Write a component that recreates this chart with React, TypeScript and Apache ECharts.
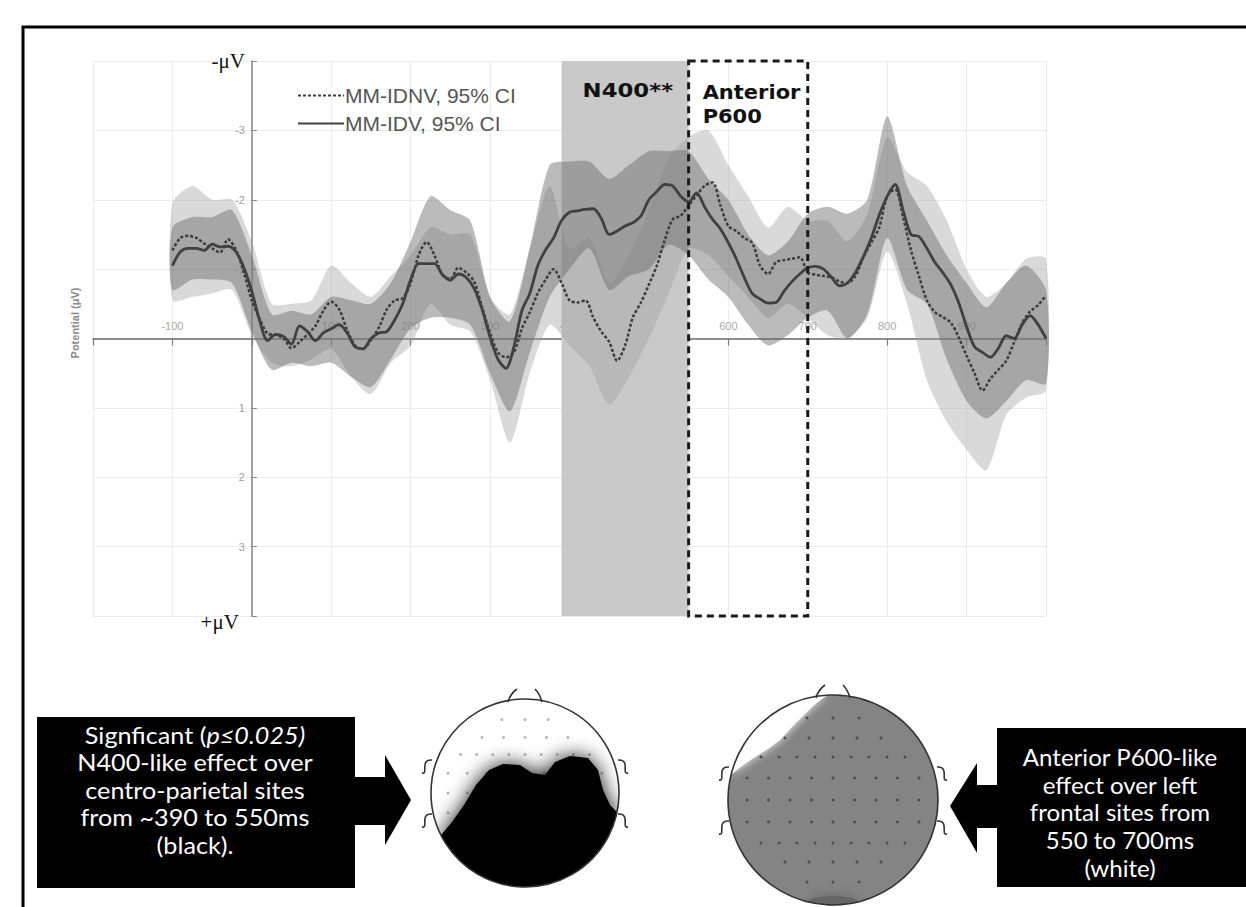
import React, { useEffect, useRef } from "react";
import * as echarts from "echarts";

// ---------- data (µV, negative plotted upward) ----------
const times = [
  -100, -90, -80, -70, -60, -50, -40, -30, -20, -10,
  0, 10, 20, 30, 40, 50, 60, 70, 80, 90,
  100, 110, 120, 130, 140, 150, 160, 170, 180, 190,
  200, 210, 220, 230, 240, 250, 260, 270, 280, 290,
  300, 310, 320, 330, 340, 350, 360, 370, 380, 390,
  400, 410, 420, 430, 440, 450, 460, 470, 480, 490,
  500, 510, 520, 530, 540, 550, 560, 570, 580, 590,
  600, 610, 620, 630, 640, 650, 660, 670, 680, 690,
  700, 710, 720, 730, 740, 750, 760, 770, 780, 790,
  800, 810, 820, 830, 840, 850, 860, 870, 880, 890,
  900, 910, 920, 930, 940, 950, 960, 970, 980, 990,
  1000,
];

const mmIDV = [
  -1.05, -1.25, -1.3, -1.3, -1.27, -1.36, -1.32, -1.33, -1.25, -1.02,
  -0.68, -0.25, 0.03, -0.06, -0.03, 0.08, -0.18, -0.1, 0.03, -0.08,
  -0.14, -0.2, -0.08, 0.12, 0.15, 0.0, -0.08, -0.1, -0.27, -0.5,
  -0.85, -1.08, -1.08, -1.08, -0.92, -0.84, -0.93, -0.88, -0.72, -0.42,
  -0.02, 0.3, 0.43, 0.12, -0.4, -0.65, -1.05, -1.28, -1.45, -1.7,
  -1.82, -1.84, -1.86, -1.87, -1.73, -1.5, -1.55, -1.62, -1.67, -1.77,
  -2.0, -2.12, -2.22, -2.2, -2.05, -1.97, -2.1, -1.9, -1.72, -1.58,
  -1.38, -1.15, -0.88, -0.65, -0.57, -0.51, -0.52, -0.68, -0.82, -0.93,
  -1.02, -1.04, -1.0, -0.88, -0.76, -0.8, -0.95, -1.18, -1.45, -1.78,
  -2.05, -2.22, -1.85, -1.5, -1.47, -1.3, -1.1, -0.95, -0.78, -0.52,
  -0.17, 0.12, 0.2, 0.27, 0.14, -0.04, 0.0, -0.2, -0.33, -0.2,
  0.0,
];

const mmIDNV = [
  -1.27, -1.45, -1.48, -1.45, -1.37, -1.3, -1.24, -1.43, -1.28, -0.95,
  -0.55, -0.28, -0.07, -0.05, 0.0, 0.14, 0.05, -0.06, -0.18, -0.4,
  -0.53, -0.42, -0.12, 0.1, 0.15, 0.02, -0.16, -0.42, -0.55, -0.58,
  -0.8, -1.2, -1.39, -1.2, -0.92, -0.86, -1.02, -0.95, -0.82, -0.45,
  -0.08, 0.2, 0.27, 0.2, -0.14, -0.38, -0.65, -0.85, -1.0, -0.8,
  -0.55, -0.52, -0.55, -0.3, -0.1, 0.05, 0.32, 0.1, -0.31, -0.52,
  -0.78, -1.05, -1.42, -1.72, -1.77, -1.92, -2.06, -2.2, -2.25, -1.92,
  -1.62, -1.55, -1.45, -1.38, -1.05, -0.93, -1.1, -1.13, -1.15, -1.17,
  -0.95, -0.92, -0.9, -0.88, -0.82, -0.8, -0.9, -1.17, -1.38, -1.6,
  -2.05, -2.15, -1.75, -1.27, -0.9, -0.55, -0.38, -0.31, -0.23, -0.02,
  0.25, 0.5, 0.75, 0.58, 0.45, 0.32, 0.05, -0.22, -0.39, -0.48,
  -0.62,
];

// 95% CI bounds, sampled every 25 ms
const ciTimes = [
  -100, -75, -50, -25, 0, 25, 50, 75, 100, 125, 150, 175, 200, 225, 250, 275,
  300, 325, 350, 375, 400, 425, 450, 475, 500, 525, 550, 575, 600, 625, 650, 675,
  700, 725, 750, 775, 800, 825, 850, 875, 900, 925, 950, 975, 1000,
];
const idnvUpper = [
  -1.95, -2.2, -2.0, -2.0, -1.4, -0.5, -0.5, -0.55, -1.05, -0.8, -0.6, -0.9,
  -1.2, -1.6, -1.5, -1.5, -0.6, -0.35, -1.3, -2.2, -1.3, -1.45, -0.8, -1.2,
  -1.85, -2.6, -2.9, -3.0, -2.5, -2.05, -1.6, -1.9, -1.7, -1.7, -1.4, -1.8,
  -2.9, -2.4, -2.2, -1.7, -1.0, -0.6, -0.8, -1.15, -1.15,
];
const idnvLower = [
  -0.55, -0.6, -0.65, -0.7, -0.05, 0.35, 0.4, 0.3, 0.15, 0.55, 0.8, 0.35,
  0.1, -0.5, -0.2, -0.1, 0.6, 1.5, 0.5, -0.2, 0.1, 0.4, 0.95, 0.55,
  0.0, -0.65, -1.3, -1.2, -0.9, -0.6, -0.3, -0.5, -0.3, -0.05, 0.0, -0.3,
  -1.25, -0.5, 0.6, 1.2, 1.6, 1.9, 1.1, 0.85, 0.75,
];
const idvUpper = [
  -1.6, -1.75, -1.75, -1.85, -1.2, -0.35, -0.4, -0.35, -0.6, -0.55, -0.5, -0.8,
  -1.4, -2.05, -1.85, -1.7, -0.6, -0.25, -1.3, -2.5, -2.55, -2.55, -2.3, -2.5,
  -2.7, -2.7, -2.7, -2.3, -2.0, -1.5, -1.2, -1.4, -1.8, -1.9, -1.8, -2.0,
  -3.2, -2.2, -1.7, -1.2, -0.8, -0.45, -0.8, -1.05, -0.7,
];
const idvLower = [
  -0.7, -0.85, -0.85, -0.8, -0.1, 0.45, 0.35, 0.4, 0.35, 0.55, 0.7, 0.3,
  -0.15, -0.3, -0.3, -0.2, 0.5, 1.05, 0.2, -0.6, -1.0, -1.3, -0.7, -0.9,
  -1.0, -1.35, -1.2, -0.85, -0.6, -0.2, 0.1, -0.05, -0.3, -0.4, 0.0, -0.35,
  -1.45, -0.7, -0.5, 0.3, 0.9, 1.15, 0.9, 0.6, 0.65,
];

const n400Window = [390, 550];
const p600Window = [550, 700];
const xTickHidden = [-200, 0, 1000];

const leftBoxLines = [
  "Signficant ({i|p≤0.025)}",
  "N400-like effect over",
  "centro-parietal sites",
  "from ~390 to 550ms",
  "(black).",
];
const rightBoxLines = [
  "Anterior P600-like",
  "effect over left",
  "frontal sites from",
  "550 to 700ms",
  "(white)",
];

// ---------- layout ----------
const W = 1246;
const H = 907;
const GRID = { left: 93, right: 200, top: 61, bottom: 291 };
const X_MIN = -200, X_MAX = 1000, Y_MIN = -4, Y_MAX = 4;

// ---------- helpers for the scalp maps ----------
const arcPts = (cx: number, cy: number, r: number, a0: number, a1: number, n = 40) => {
  const pts: number[][] = [];
  for (let k = 0; k <= n; k++) {
    const a = ((a0 + ((a1 - a0) * k) / n) * Math.PI) / 180;
    pts.push([cx + r * Math.cos(a), cy + r * Math.sin(a)]);
  }
  return pts;
};

const dotRows = [
  [-82, 3, 26], [-62, 5, 24], [-43, 9, 18], [-22, 9, 21.5], [0, 9, 21.5],
  [22, 9, 21.5], [43, 9, 18], [62, 5, 24], [82, 3, 26],
];

function headDots(cx: number, cy: number, r: number, color: string, z: number) {
  const s = r / 105;
  const out: any[] = [];
  dotRows.forEach(([dy, cnt, sp]) => {
    for (let k = 0; k < cnt; k++) {
      const dx = (k - (cnt - 1) / 2) * sp;
      out.push({
        type: "circle", silent: true, z,
        shape: { cx: cx + dx * s, cy: cy + dy * s, r: 1.5 },
        style: { fill: color },
      });
    }
  });
  return out;
}

function headDecor(cx: number, cy: number, r: number, z: number) {
  const top = cy - r;
  const els: any[] = [];
  const st = { stroke: "#333", lineWidth: 1.6, fill: "none" };
  els.push({ type: "bezierCurve", silent: true, z, shape: { x1: cx - 17, y1: top + 3, cpx1: cx - 15, cpy1: top - 5, x2: cx - 8, y2: top - 10 }, style: st });
  els.push({ type: "bezierCurve", silent: true, z, shape: { x1: cx + 17, y1: top + 3, cpx1: cx + 15, cpy1: top - 5, x2: cx + 10, y2: top - 10 }, style: st });
  [cy - 26, cy + 28].forEach((ey) => {
    els.push({ type: "bezierCurve", silent: true, z, shape: { x1: cx - r + 1, y1: ey - 7, cpx1: cx - r - 12, cpy1: ey - 8, cpx2: cx - r - 2, cpy2: ey + 8, x2: cx - r - 9, y2: ey + 6 }, style: st });
    els.push({ type: "bezierCurve", silent: true, z, shape: { x1: cx + r - 1, y1: ey - 7, cpx1: cx + r + 12, cpy1: ey - 8, cpx2: cx + r + 2, cpy2: ey + 8, x2: cx + r + 9, y2: ey + 6 }, style: st });
  });
  return els;
}

function bandSeries(upper: number[], lower: number[], color: string, z: number) {
  return {
    type: "custom",
    silent: true,
    z,
    data: ciTimes.map((t, i) => [t, upper[i], lower[i]]),
    encode: { x: 0, y: [1, 2] },
    renderItem: (params: any, api: any) => {
      if (params.dataIndex !== 0) return null;
      const topPts = ciTimes.map((t, i) => api.coord([t, upper[i]]));
      const botPts = ciTimes.map((t, i) => api.coord([t, lower[i]])).reverse();
      return {
        type: "polygon",
        shape: { points: [...topPts, ...botPts], smooth: 0.25 },
        style: { fill: color },
      };
    },
  };
}

function windowSeries(win: number[], kind: "n400" | "p600", z: number) {
  return {
    type: "custom",
    silent: true,
    z,
    data: [[win[0], win[1], Y_MIN, Y_MAX]],
    encode: { x: [0, 1], y: [2, 3] },
    renderItem: (params: any, api: any) => {
      const p0 = api.coord([api.value(0), api.value(2)]);
      const p1 = api.coord([api.value(1), api.value(3)]);
      const x = p0[0];
      const y = Math.min(p0[1], p1[1]);
      const w = p1[0] - p0[0];
      const h = Math.abs(p1[1] - p0[1]);
      const font = 'bold 20px "DejaVu Sans", sans-serif';
      if (kind === "n400") {
        return {
          type: "group",
          children: [
            { type: "rect", shape: { x, y, width: w, height: h }, style: { fill: "#c9c9c9" } },
            { type: "text", x: x + 21, y: y + 19, scaleX: 1.14, style: { text: "N400**", font, fill: "#111", align: "left", verticalAlign: "top" } },
          ],
        };
      }
      return {
        type: "group",
        children: [
          { type: "rect", shape: { x, y, width: w, height: h }, style: { fill: "none", stroke: "#1a1a1a", lineWidth: 3, lineDash: [7, 5] } },
          { type: "text", x: x + 14, y: y + 19, scaleX: 1.05, style: { text: "Anterior\nP600", font, lineHeight: 24, fill: "#111", align: "left", verticalAlign: "top" } },
        ],
      };
    },
  };
}

export default function App() {
  const ref = useRef<HTMLDivElement>(null);

  useEffect(() => {
    document.body.style.margin = "0";
    const chart = echarts.init(ref.current as HTMLDivElement, null as any, { renderer: "svg" });

    const gw = W - GRID.left - GRID.right;
    const gh = H - GRID.top - GRID.bottom;
    const yAxisOffset = -gw * ((0 - X_MIN) / (X_MAX - X_MIN));
    const xAxisOffset = -gh * ((Y_MAX - 0) / (Y_MAX - Y_MIN));

    const L = { cx: 525, cy: 793, r: 94 };
    const R = { cx: 833, cy: 800, r: 105 };

    const blackTop = [
      [441, 835], [452, 822], [464, 805], [476, 785], [489, 770], [503, 764],
      [520, 765], [532, 773], [545, 775], [555, 762], [570, 756], [588, 758],
      [598, 770], [603, 790], [610, 805], [617, 812],
    ];
    const blackPoly = [...blackTop, ...arcPts(L.cx, L.cy, L.r, 11.66, 153.5)];

    const whiteEdge = [
      [731, 775], [742, 766], [755, 757], [768, 749], [780, 740], [792, 727],
      [803, 716], [813, 706], [822, 699], [828, 695.1],
    ];
    const whitePoly = [...whiteEdge, ...arcPts(R.cx, R.cy, R.r, 267.3, 193.8)];

    const boxText = (lines: string[], cx: number, cy: number, lh: number, size: number, sx: number, z: number) => ({
      type: "text", silent: true, z,
      x: cx, y: cy, scaleX: sx,
      style: {
        text: lines.join("\n"),
        font: `${size}px Lato, sans-serif`,
        fontSize: size,
        fontFamily: "Lato",
        lineHeight: lh,
        fill: "#fff",
        align: "center",
        verticalAlign: "middle",
        rich: { i: { fontStyle: "italic", fontSize: size, fontFamily: "Lato", lineHeight: lh, fill: "#fff" } },
      },
    });

    const graphics: any[] = [
      { type: "rect", silent: true, z: 0, shape: { x: 23, y: 27, width: 1300, height: 1000 }, style: { fill: "none", stroke: "#000", lineWidth: 3 } },
      { type: "text", silent: true, z: 1, x: 75, y: 323, rotation: Math.PI / 2, style: { text: "Potential (μV)", font: 'bold 11px "Liberation Sans", sans-serif', fill: "#8a8a8a", align: "center", verticalAlign: "middle" } },
      { type: "text", silent: true, z: 1, x: 645, y: 419, style: { text: "Time (ms)", font: '13px "Liberation Sans", sans-serif', fill: "#6e6e6e", align: "center", verticalAlign: "middle" } },

      // left head
      { type: "circle", silent: true, z: 10, shape: { cx: L.cx, cy: L.cy, r: L.r }, style: { fill: "#fff" } },
      ...headDots(L.cx, L.cy, L.r, "#b8b8b8", 11),
      { type: "polygon", silent: true, z: 12, shape: { points: blackPoly }, style: { fill: "#000", shadowBlur: 20, shadowColor: "rgba(0,0,0,0.9)" } },
      { type: "ring", silent: true, z: 13, shape: { cx: L.cx, cy: L.cy, r: L.r + 30, r0: L.r }, style: { fill: "#fff" } },
      { type: "circle", silent: true, z: 14, shape: { cx: L.cx, cy: L.cy, r: L.r }, style: { fill: "none", stroke: "#333", lineWidth: 1.6 } },
      ...headDecor(L.cx, L.cy, L.r, 14),

      // right head
      { type: "circle", silent: true, z: 10, shape: { cx: R.cx, cy: R.cy, r: R.r }, style: { fill: "#848484" } },
      { type: "ellipse", silent: true, z: 11, shape: { cx: R.cx, cy: R.cy + R.r - 2, rx: 26, ry: 7 }, style: { fill: "#666", shadowBlur: 12, shadowColor: "#666" } },
      { type: "polygon", silent: true, z: 11, shape: { points: whitePoly }, style: { fill: "#fff", shadowBlur: 10, shadowColor: "rgba(255,255,255,0.9)" } },
      ...headDots(R.cx, R.cy, R.r, "#4d4d4d", 12),
      { type: "ring", silent: true, z: 13, shape: { cx: R.cx, cy: R.cy, r: R.r + 30, r0: R.r }, style: { fill: "#fff" } },
      { type: "circle", silent: true, z: 14, shape: { cx: R.cx, cy: R.cy, r: R.r }, style: { fill: "none", stroke: "#333", lineWidth: 1.6 } },
      ...headDecor(R.cx, R.cy, R.r, 14),

      // left annotation box + arrow
      { type: "rect", silent: true, z: 15, shape: { x: 37, y: 717, width: 318, height: 171 }, style: { fill: "#000" } },
      { type: "polygon", silent: true, z: 15, shape: { points: [[354, 777], [385, 777], [385, 755], [411, 800], [385, 845], [385, 825], [354, 825]] }, style: { fill: "#000" } },
      boxText(leftBoxLines, 195, 790, 27.5, 22.5, 1.12, 16),

      // right annotation box + arrow
      { type: "rect", silent: true, z: 15, shape: { x: 997, y: 728, width: 270, height: 159 }, style: { fill: "#000" } },
      { type: "polygon", silent: true, z: 15, shape: { points: [[998, 785], [977, 785], [977, 763], [950, 806], [977, 853], [977, 828], [998, 828]] }, style: { fill: "#000" } },
      boxText(rightBoxLines, 1120, 812.5, 27.7, 22.5, 1.07, 16),
    ];

    const option: any = {
      animation: false,
      backgroundColor: "#fff",
      grid: { ...GRID, containLabel: false },
      legend: {
        data: ["MM-IDNV, 95% CI", "MM-IDV, 95% CI"],
        orient: "vertical",
        left: 292,
        top: 80,
        itemGap: 7,
        itemWidth: 46,
        itemHeight: 20,
        selectedMode: false,
        itemStyle: { opacity: 0 },
        textStyle: { fontSize: 21, color: "#555", fontFamily: "Liberation Sans", padding: [0, 0, 0, -4] },
      },
      xAxis: {
        type: "value",
        min: X_MIN,
        max: X_MAX,
        interval: 100,
        position: "bottom",
        offset: xAxisOffset,
        axisLine: { onZero: false, lineStyle: { color: "#6a6a6a", width: 1.6 } },
        axisTick: { show: true, inside: false, length: 7, lineStyle: { color: "#7a7a7a", width: 1.2 } },
        axisLabel: {
          inside: true,
          color: "#a8a8a8",
          fontSize: 11,
          fontFamily: "Liberation Sans",
          margin: 7,
          formatter: (v: number) => (xTickHidden.includes(v) ? "" : String(v)),
        },
        splitLine: { show: true, lineStyle: { color: "#ececec", width: 1 } },
      },
      yAxis: {
        type: "value",
        inverse: true,
        min: Y_MIN,
        max: Y_MAX,
        interval: 1,
        position: "left",
        offset: yAxisOffset,
        axisLine: { onZero: false, lineStyle: { color: "#8a8a8a", width: 1.6 } },
        axisTick: { show: true, inside: true, length: 5, lineStyle: { color: "#8a8a8a" } },
        axisLabel: {
          color: "#a0a0a0",
          fontSize: 11,
          fontFamily: "Liberation Sans",
          margin: 7,
          formatter: (v: number) => (v === -4 ? "{u|-μV}" : v === 4 ? "{d|+μV}" : v === 0 ? "" : String(v)),
          rich: {
            u: { fontSize: 21, color: "#111", fontFamily: "Liberation Serif" },
            d: { fontSize: 21, color: "#111", fontFamily: "Liberation Serif", padding: [12, 6, 0, 0] },
          },
        },
        splitLine: { show: true, lineStyle: { color: "#ececec", width: 1 } },
      },
      series: [
        windowSeries(n400Window, "n400", 1),
        bandSeries(idnvUpper, idnvLower, "rgba(160,160,160,0.4)", 2),
        bandSeries(idvUpper, idvLower, "rgba(105,105,105,0.45)", 3),
        {
          type: "line",
          name: "MM-IDNV, 95% CI",
          data: times.map((t, i) => [t, mmIDNV[i]]),
          symbol: "none",
          smooth: 0.3,
          z: 4,
          itemStyle: { color: "#3c3c3c" },
          lineStyle: { color: "#3c3c3c", width: 2.5, type: [3, 2] },
        },
        {
          type: "line",
          name: "MM-IDV, 95% CI",
          data: times.map((t, i) => [t, mmIDV[i]]),
          symbol: "none",
          smooth: 0.3,
          z: 4,
          itemStyle: { color: "#404040" },
          lineStyle: { color: "#404040", width: 2.8 },
        },
        windowSeries(p600Window, "p600", 6),
      ],
      graphic: { elements: graphics },
    };

    chart.setOption(option);
    return () => chart.dispose();
  }, []);

  return (
    <div
      ref={ref}
      style={{ position: "absolute", left: 0, top: 0, width: W, height: H, background: "#fff" }}
    />
  );
}
